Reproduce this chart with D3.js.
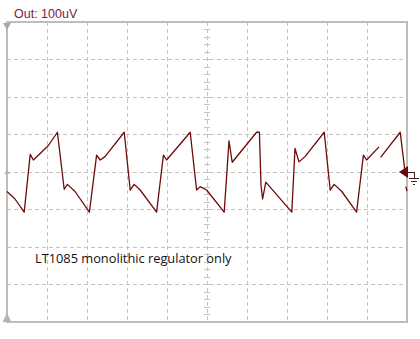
<!DOCTYPE html>
<html>
<head>
<meta charset="utf-8">
<script src="https://cdn.jsdelivr.net/npm/d3@7"></script>
<style>
  html, body { margin: 0; padding: 0; background: #fff; }
  svg { display: block; }
</style>
</head>
<body>
<div id="chart"></div>
<script>
// time in divisions, voltage in uV (100uV/div). null = gap in the trace
const timeDiv = [0, 0.2, 0.43, 0.58, 0.66, 1.03, 1.26, 1.43, 1.51, 1.7, 2.06, 2.24, 2.33, 2.45, 2.93,
  3.08, 3.18, 3.33, 3.74, 3.91, 3.99, 4.58, 4.74, 4.83, 4.99, 5.43, 5.55, 5.63, 6.24, 6.31,
  6.35, 6.39, 6.47, 7.12, 7.2, 7.3, 7.45, 7.93, 8.08, 8.18, 8.37, 8.74, 8.91, 8.99, 9.3,
  9.32, 9.34, 9.83, 9.95, 9.96, 9.97, 10.0];
const outUv = [-52, -72, -107, 47, 32, 70, 106, -46, -33, -52, -107, 45, 32, 41, 106,
  -48, -33, -48, -107, 45, 32, 106, -48, -39, -48, -107, 83, 26, 106, 106,
  -35, -72, -27, -107, 63, 27, 41, 106, -48, -33, -52, -107, 45, 32, 67,
  null, 39, 106, 1, null, -39, -51];

const channelLabel = "Out: 100uV";
const noteLabel = "LT1085 monolithic regulator only";
const xDomain = [0, 10];
const yDomain = [-400, 400];

const W = 420, H = 339;
const svg = d3.select("#chart").append("svg").attr("width", W).attr("height", H);

const x = d3.scaleLinear().domain(xDomain).range([7, 407]);
const y = d3.scaleLinear().domain(yDomain).range([322, 22]);

const GRID = "#c4c4c4";
const grid = svg.append("g").attr("shape-rendering", "crispEdges");

// dashed graticule
grid.selectAll("line.vx")
  .data(x.ticks(10).slice(1, -1))
  .join("line")
  .attr("x1", d => x(d)).attr("x2", d => x(d))
  .attr("y1", y(yDomain[1])).attr("y2", y(yDomain[0]))
  .attr("stroke", GRID).attr("stroke-dasharray", "4,3");

grid.selectAll("line.hy")
  .data(y.ticks(8).slice(1, -1))
  .join("line")
  .attr("x1", x(xDomain[0])).attr("x2", x(xDomain[1]))
  .attr("y1", d => y(d)).attr("y2", d => y(d))
  .attr("stroke", GRID).attr("stroke-dasharray", "4,3");

// minor ticks on the vertical centre axis
grid.selectAll("line.my")
  .data(d3.range(yDomain[0] + 20, yDomain[1], 20))
  .join("line")
  .attr("x1", x(5) - 3).attr("x2", x(5) + 3)
  .attr("y1", d => y(d)).attr("y2", d => y(d))
  .attr("stroke", GRID);

// frame
grid.append("rect")
  .attr("x", x(xDomain[0])).attr("y", y(yDomain[1]))
  .attr("width", x(xDomain[1]) - x(xDomain[0]))
  .attr("height", y(yDomain[0]) - y(yDomain[1]))
  .attr("fill", "none").attr("stroke", "#bdbdbd").attr("stroke-width", 1.5);

// markers on the left edge
const x0 = x(xDomain[0]);
svg.append("path")
  .attr("d", `M${x0 - 4},${y(400) + 1}L${x0 + 4},${y(400) + 1}L${x0},${y(400) + 8}Z`)
  .attr("fill", "#a8a8a8");
svg.append("path")
  .attr("d", `M${x0 - 4.5},${y(-400)}L${x0 + 4.5},${y(-400)}L${x0},${y(-400) - 9}Z`)
  .attr("fill", "#b4b4b4");
svg.append("path")
  .attr("d", `M${x0 - 2.5},${y(0) + 2}L${x0 + 2.5},${y(0) + 2}L${x0},${y(0) - 3}Z`)
  .attr("fill", "#b4b4b4");

// trace
const line = d3.line()
  .defined((d, i) => outUv[i] !== null)
  .x((d, i) => x(timeDiv[i]))
  .y((d, i) => y(outUv[i]));

svg.append("path")
  .datum(timeDiv)
  .attr("d", line)
  .attr("fill", "none")
  .attr("stroke", "#6e0a0a")
  .attr("stroke-width", 1.3)
  .attr("stroke-linejoin", "round");

// channel reference marker + ground symbol on the right edge
const xr = x(xDomain[1]), yc = y(0);
svg.append("path")
  .attr("d", `M${xr - 8},${yc}L${xr + 1},${yc - 6}L${xr + 1},${yc + 6}Z`)
  .attr("fill", "#6e0a0a");
svg.append("path")
  .attr("d", `M${xr},${yc}H${xr + 7}V${yc + 6}M${xr + 2},${yc + 6}H${xr + 12}M${xr + 4},${yc + 9}H${xr + 10}M${xr + 6},${yc + 12}H${xr + 8}`)
  .attr("fill", "none").attr("stroke", "#4a1a1a").attr("stroke-width", 1)
  .attr("shape-rendering", "crispEdges");

// labels
svg.append("text")
  .attr("x", 14).attr("y", 18)
  .attr("font-family", "Liberation Sans, Arial, sans-serif")
  .attr("font-size", 12.5)
  .attr("fill", "#7a1a45")
  .text(channelLabel);

svg.append("text")
  .attr("x", 35).attr("y", 263)
  .attr("font-family", "Open Sans, sans-serif")
  .attr("font-size", 12.8)
  .attr("fill", "#111")
  .text(noteLabel);
</script>
</body>
</html>
